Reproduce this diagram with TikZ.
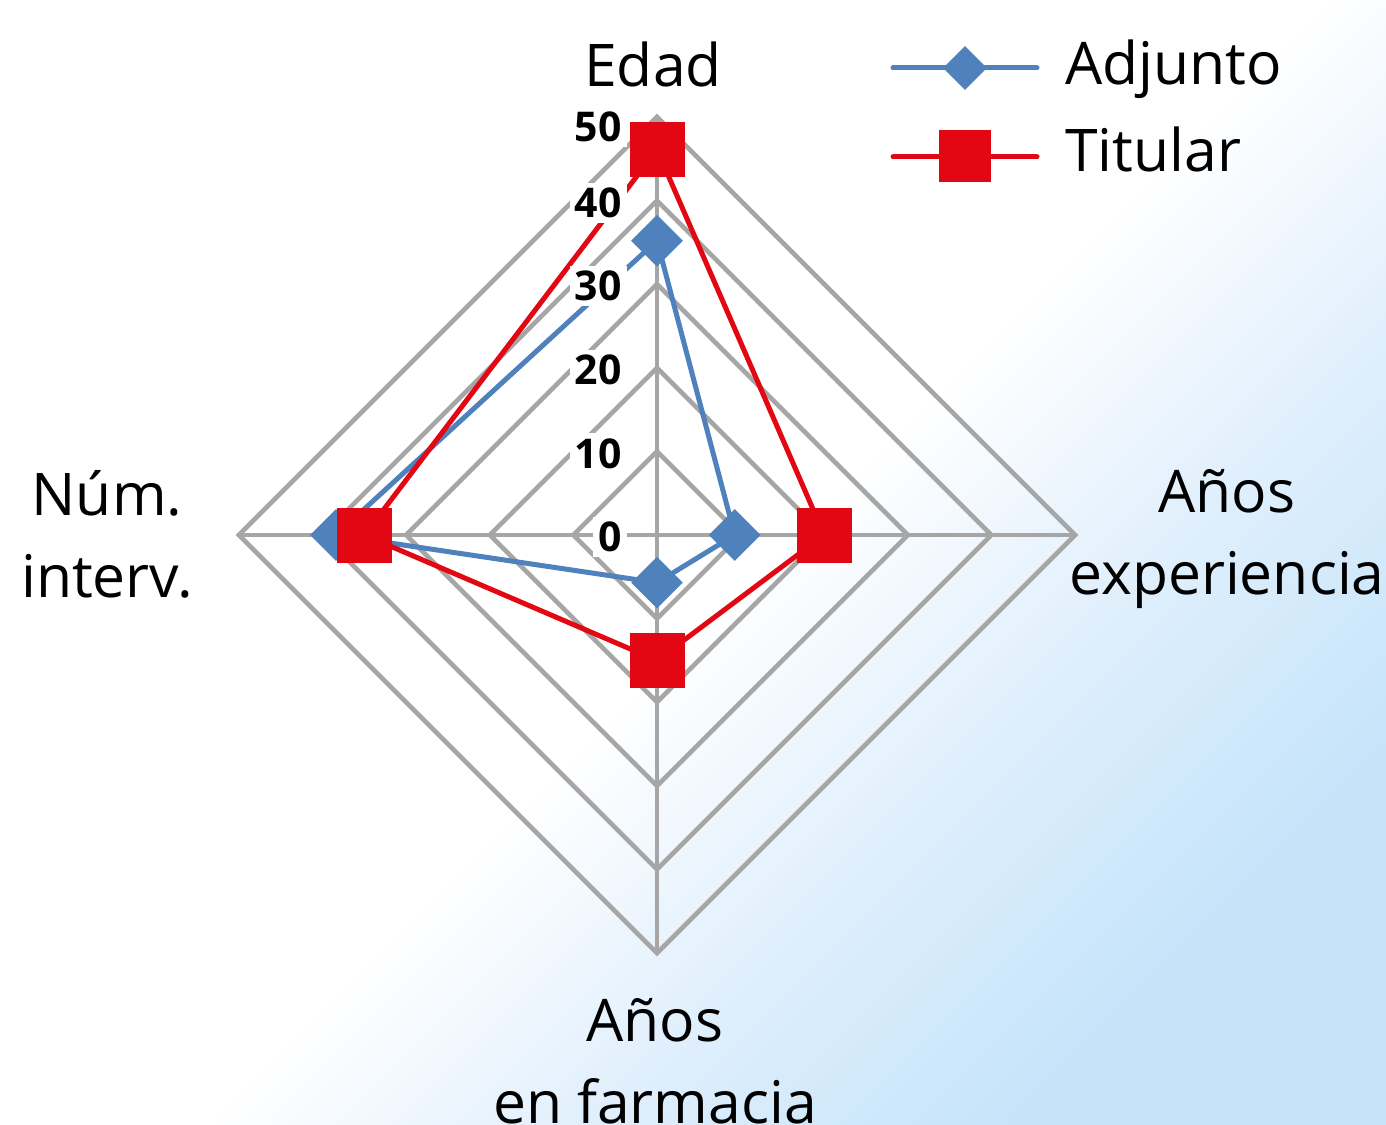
\documentclass[tikz,border=0pt]{standalone}
\usepackage{fontspec}
\setmainfont{Open Sans}
\usetikzlibrary{shapes.geometric}
\definecolor{adjblue}{RGB}{79,129,189}
\definecolor{titred}{RGB}{227,6,19}
\definecolor{gridgray}{RGB}{166,166,166}
\definecolor{bgmid}{RGB}{224,239,252}
\definecolor{bgblue}{RGB}{197,228,250}
\pgfdeclarehorizontalshading{bgshade}{100bp}{color(0bp)=(white); color(52bp)=(white); color(63bp)=(bgmid); color(75bp)=(bgblue); color(100bp)=(bgblue)}
\tikzset{
  gridline/.style={gridgray, line width=2.3pt},
  adjline/.style={adjblue, line width=2.5pt, line join=round},
  titline/.style={titred, line width=2.5pt, line join=round},
  adjmark/.style={diamond, fill=adjblue, inner sep=0pt, minimum size=26pt},
  titmark/.style={rectangle, fill=titred, inner sep=0pt, minimum size=27.5pt},
  ticklabel/.style={fill=white, inner sep=2.5pt, anchor=east, font=\fontsize{20.5}{24}\selectfont\bfseries},
  axislabel/.style={align=center, inner sep=0pt, font=\fontsize{29.4}{41}\selectfont},
}
\begin{document}
\begin{tikzpicture}[x=0.5pt,y=0.5pt]
      \def\r{8.36};
      \useasboundingbox (-657,-589) rectangle (729,535);
      \shade[shading=bgshade, shading angle=-45] (-657,-589) rectangle (729,535);
      % grid
      \foreach \k in {1,...,5}
        \draw[gridline] (90:\k*10*\r) -- (0:\k*10*\r) -- (270:\k*10*\r) -- (180:\k*10*\r) -- cycle;
      \draw[gridline] (180:50*\r) -- (0:50*\r);
      \draw[gridline] (270:50*\r) -- (90:50*\r);
      % data points
      \coordinate (a1) at (90:35.2*\r);
      \coordinate (a2) at (0:9.3*\r);
      \coordinate (a3) at (270:5.7*\r);
      \coordinate (a4) at (180:38.4*\r);
      \coordinate (t1) at (90:46.1*\r);
      \coordinate (t2) at (0:20*\r);
      \coordinate (t3) at (270:15*\r);
      \coordinate (t4) at (180:35*\r);
      \draw[adjline] (a1) -- (a2) -- (a3) -- (a4) -- cycle;
      \draw[titline] (t1) -- (t2) -- (t3) -- (t4) -- cycle;
      % tick labels
      \foreach \v in {0,10,...,50}
        \node[ticklabel] (tick\v) at (-30,{min(\v*\r,410)-2}) {\v};
      \foreach \i in {1,...,4}
        \node[adjmark] (am\i) at (a\i) {};
      \foreach \i in {1,...,4}
        \node[titmark] (tm\i) at (t\i) {};
      % axis labels
      \node[axislabel, anchor=base] (edad) at (-4,448) {Edad};
      \node[axislabel] (exper) at (570,-4) {Años\\experiencia};
      \node[axislabel] (farma) at (-2,-526) {Años\\en farmacia};
      \node[axislabel] (inter) at (-550,1) {Núm.\\interv.};
      % legend
      \coordinate (la1) at (236,467);
      \coordinate (la2) at (380,467);
      \draw[adjline, line cap=round] (la1) -- (la2);
      \node[adjmark, minimum size=22pt] (lam) at (308,467) {};
      \node[axislabel, anchor=base west] (ladj) at (408,450) {Adjunto};
      \coordinate (lt1) at (236,378);
      \coordinate (lt2) at (380,378);
      \draw[titline, line cap=round] (lt1) -- (lt2);
      \node[titmark, minimum size=26pt] (ltm) at (308,379) {};
      \node[axislabel, anchor=base west] (ltit) at (408,363) {Titular};
    \end{tikzpicture}
\end{document}
